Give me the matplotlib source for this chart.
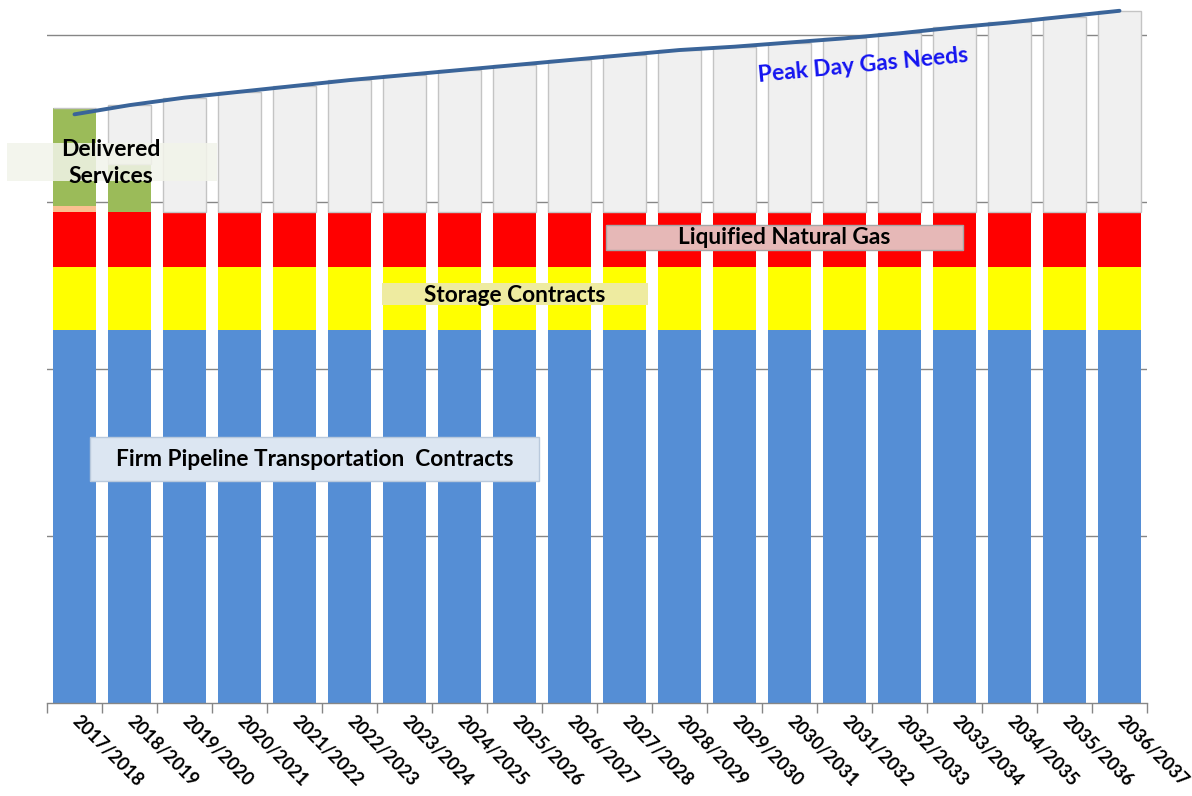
import matplotlib
matplotlib.use("Agg")
import matplotlib.pyplot as plt
from matplotlib.patches import Rectangle
import numpy as np

# ---- data ----
seasons = ["2017/2018", "2018/2019", "2019/2020", "2020/2021", "2021/2022",
           "2022/2023", "2023/2024", "2024/2025", "2025/2026", "2026/2027",
           "2027/2028", "2028/2029", "2029/2030", "2030/2031", "2031/2032",
           "2032/2033", "2033/2034", "2034/2035", "2035/2036", "2036/2037"]
pipeline_a = [311] * 20
pipeline_b = [136] * 20
storage = [75] * 20
lng_a = [28] * 20
lng_b = [38] * 20
other = [7] + [0] * 19
delivered = [118, 58] + [0] * 18
peak_need = [705, 716, 725, 732, 739, 746, 752, 758, 764, 770,
             776, 782, 786, 791, 796, 802, 809, 815, 822, 829]

W, H = 1192, 796
fig = plt.figure(figsize=(W / 100, H / 100), dpi=100)
ax = fig.add_axes([47 / W, (H - 703) / H, 1100 / W, 703 / H])

x = np.arange(len(seasons))
bw = 0.78
layers = [(pipeline_a, "#558ed5"), (pipeline_b, "#558ed5"), (storage, "#ffff00"),
          (lng_a, "#ff0000"), (lng_b, "#ff0000"), (other, "#fac090"),
          (delivered, "#9bbb59")]
bottom = np.zeros(len(seasons))
for vals, col in layers:
    v = np.array(vals, dtype=float)
    ax.bar(x, v, bw, bottom=bottom, color=col, linewidth=0, zorder=2)
    bottom += v
gap = np.clip(np.array(peak_need, dtype=float) - bottom, 0, None)
ax.bar(x, gap, bw, bottom=bottom, color="#f0f0f0", edgecolor="#c4c4c4",
       linewidth=1.0, zorder=2)
ax.plot(x, peak_need, color="#3a6499", linewidth=2.8, solid_capstyle="round", zorder=4)

ax.set_xlim(-0.5, len(seasons) - 0.5)
ax.set_ylim(0, 703 / 0.835)
ax.set_yticks([200, 400, 600, 800])
ax.yaxis.grid(True, color="#868686", linewidth=1.0, zorder=0)
ax.set_axisbelow(True)
ax.tick_params(axis="y", left=False, labelleft=False)
for s in ["left", "right", "top"]:
    ax.spines[s].set_visible(False)
ax.spines["bottom"].set_color("#868686")
ax.spines["bottom"].set_linewidth(1.0)

ax.set_xticks(x)
ax.set_xticks(np.arange(-0.5, len(seasons), 1.0), minor=True)
ax.tick_params(axis="x", which="major", length=0, pad=11)
ax.tick_params(axis="x", which="minor", length=7, color="#868686", width=1.0)
ax.set_xticklabels(seasons, rotation=-45, ha="left", va="center",
                   rotation_mode="anchor", fontsize=13, fontweight="bold",
                   family="Lato")
for lbl in ax.get_xticklabels():
    lbl.set_x(lbl.get_position()[0] - 0.15)


def px_box(x0, y0, x1, y1, fc, ec=None, alpha=1.0):
    r = Rectangle((x0 / W, 1 - y1 / H), (x1 - x0) / W, (y1 - y0) / H,
                  transform=fig.transFigure, facecolor=fc,
                  edgecolor=ec if ec else "none", linewidth=1.0 if ec else 0,
                  alpha=alpha, zorder=5)
    fig.patches.append(r)


def px_text(xc, yc, s, **kw):
    fig.text(xc / W, 1 - yc / H, s, ha="center", va="center", family="Lato",
             fontweight="bold", zorder=6, **kw)


px_box(7, 143, 217, 181, "#f2f4ea", alpha=0.85)
px_text(111, 163, "Delivered\nServices", fontsize=16.5, linespacing=1.4)

px_box(90, 437, 539, 481, "#dce6f2", ec="#b9c9dc")
px_text(315, 459, "Firm Pipeline Transportation  Contracts", fontsize=16.3)

px_box(382, 283, 648, 305, "#eeeba0")
px_text(515, 295, "Storage Contracts", fontsize=16.3)

px_box(606, 225, 963, 250, "#e6b8b7", ec="#a6a6a6")
px_text(784, 238, "Liquified Natural Gas", fontsize=16.3)

fig.text(863 / W, 1 - 65 / H, "Peak Day Gas Needs", ha="center", va="center",
         family="Lato", fontweight="bold", fontsize=16.5, color="#1414f0",
         rotation=5.5, zorder=6)

fig.savefig("out.png", dpi=100)
